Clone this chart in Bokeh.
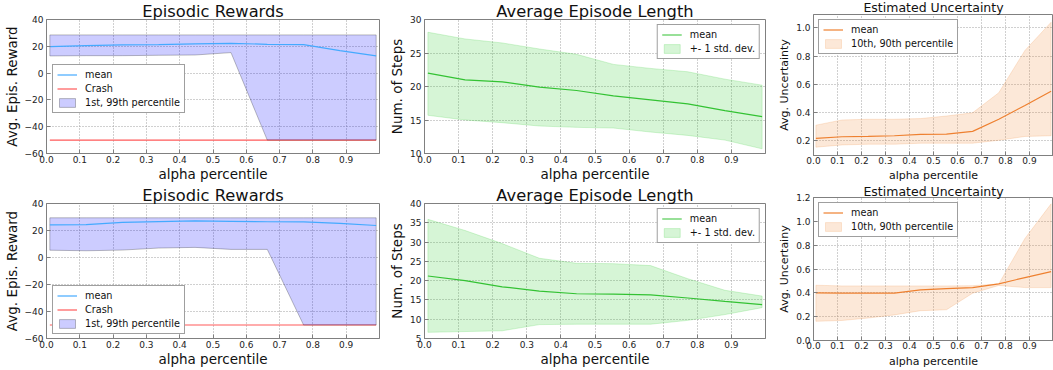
from bokeh.plotting import figure
from bokeh.layouts import column, row
from bokeh.models import Range1d, FixedTicker, Legend, LegendItem, PrintfTickFormatter
from bokeh.embed import file_html
from bokeh.resources import INLINE

# ---------------- data ----------------
alpha = [0.01, 0.119, 0.228, 0.337, 0.446, 0.554, 0.663, 0.772, 0.881, 0.99]
x_ticks = [0.0, 0.1, 0.2, 0.3, 0.4, 0.5, 0.6, 0.7, 0.8, 0.9]

# Row 1
r1_reward_mean = [19.8, 20.5, 21.0, 21.3, 21.8, 22.2, 21.5, 21.2, 16.8, 12.8]
r1_reward_p1 = [12.8, 13.0, 13.0, 13.3, 13.5, 15.3, -50.0, -50.0, -50.0, -50.0]
r1_reward_p99 = [28.5, 28.5, 28.5, 28.5, 28.5, 28.5, 28.5, 28.5, 28.5, 28.5]
r1_crash = [-50, -50, -50, -50, -50, -50, -50, -50, -50, -50]

r1_len_mean = [22.0, 21.0, 20.7, 19.9, 19.4, 18.6, 18.0, 17.4, 16.4, 15.5]
r1_len_upper = [28.1, 27.1, 26.5, 25.6, 24.8, 23.3, 22.7, 22.2, 21.1, 20.2]
r1_len_lower = [15.7, 15.0, 14.6, 14.1, 13.9, 13.8, 13.2, 12.7, 12.0, 10.7]

r1_unc_mean = [0.217, 0.228, 0.230, 0.235, 0.245, 0.247, 0.266, 0.352, 0.450, 0.550]
r1_unc_p90 = [0.310, 0.347, 0.352, 0.352, 0.357, 0.375, 0.398, 0.540, 0.840, 1.040]
r1_unc_p10 = [0.154, 0.170, 0.175, 0.175, 0.182, 0.182, 0.182, 0.203, 0.230, 0.235]

# Row 2
r2_reward_mean = [24.2, 24.3, 26.0, 26.6, 27.2, 26.8, 26.5, 26.4, 25.3, 23.7]
r2_reward_p1 = [5.4, 5.0, 5.5, 7.0, 7.5, 6.0, 6.0, -50.0, -50.0, -50.0]
r2_reward_p99 = [29.4, 29.4, 29.4, 29.4, 29.4, 29.4, 29.4, 29.4, 29.4, 29.4]
r2_crash = [-50, -50, -50, -50, -50, -50, -50, -50, -50, -50]

r2_len_mean = [21.2, 20.0, 18.4, 17.3, 16.6, 16.5, 16.3, 15.5, 14.6, 13.8]
r2_len_upper = [35.9, 33.0, 29.6, 25.8, 24.5, 24.4, 23.9, 20.5, 17.5, 16.0]
r2_len_lower = [6.6, 6.8, 7.0, 8.6, 8.7, 8.7, 8.7, 9.7, 11.2, 13.0]

r2_unc_mean = [0.400, 0.397, 0.397, 0.397, 0.425, 0.436, 0.444, 0.475, 0.528, 0.578]
r2_unc_p90 = [0.464, 0.458, 0.458, 0.458, 0.458, 0.458, 0.460, 0.475, 0.856, 1.147]
r2_unc_p10 = [0.161, 0.168, 0.189, 0.215, 0.250, 0.258, 0.397, 0.462, 0.444, 0.444]

FONT = "DejaVu Sans"
FRAME = "#808080"


def style_axis(ax, lsize):
    ax.axis_line_color = FRAME
    ax.major_tick_line_color = FRAME
    ax.major_tick_in = 4
    ax.major_tick_out = 0
    ax.minor_tick_line_color = None
    ax.major_label_text_font = FONT
    ax.major_label_text_font_size = "9px"
    ax.major_label_text_color = "#222222"
    ax.axis_label_text_font = FONT
    ax.axis_label_text_font_size = lsize
    ax.axis_label_text_font_style = "normal"
    ax.axis_label_text_color = "#111111"


def make_fig(width, height, bl, br, bt, bb, yr, yticks, title, tsize, t_std, lsize, xlabel, ylabel,
             x_std, x_ast, overrides=None, yfmt=None):
    p = figure(width=width, height=height, x_range=Range1d(0, 1.0), y_range=Range1d(*yr),
               output_backend="svg", toolbar_location=None,
               min_border_left=bl, min_border_right=br, min_border_top=bt, min_border_bottom=bb)
    p.title.text = title
    p.title.text_font = FONT
    p.title.text_font_size = tsize
    p.title.text_font_style = "normal"
    p.title.text_color = "#111111"
    p.title.align = "center"
    p.title.vertical_align = "middle"
    p.title.standoff = t_std
    p.title.offset = 0
    p.outline_line_color = FRAME
    p.outline_line_width = 1
    p.background_fill_color = "white"
    p.border_fill_color = "white"
    p.xaxis.ticker = FixedTicker(ticks=x_ticks)
    p.xaxis.formatter = PrintfTickFormatter(format="%.1f")
    p.yaxis.ticker = FixedTicker(ticks=yticks)
    if yfmt:
        p.yaxis.formatter = PrintfTickFormatter(format=yfmt)
    if overrides:
        p.yaxis.major_label_overrides = overrides
    style_axis(p.xaxis[0], lsize)
    style_axis(p.yaxis[0], lsize)
    p.xaxis.axis_label = xlabel
    p.yaxis.axis_label = ylabel
    p.xaxis.major_label_standoff = x_std
    p.xaxis.axis_label_standoff = x_ast
    p.yaxis.major_label_standoff = 3
    p.yaxis.axis_label_standoff = 2
    p.grid.grid_line_color = "#a0a0a0"
    p.grid.grid_line_dash = "1 2"
    p.grid.grid_line_width = 1
    return p


def band(p, lower, upper, color, edge, edge_alpha):
    xs = alpha + alpha[::-1]
    ys = upper + lower[::-1]
    return p.patch(xs, ys, fill_color=color, fill_alpha=0.2, line_color=edge, line_alpha=edge_alpha, line_width=1)


def legend(p, items, location, margin):
    lg = Legend(items=items, location=location, margin=margin)
    lg.label_text_font = FONT
    lg.label_text_font_size = "9.7px"
    lg.label_text_color = "#111111"
    lg.glyph_width = 20
    lg.glyph_height = 11
    lg.label_height = 11
    lg.label_standoff = 8
    lg.spacing = 3
    lg.padding = 4
    lg.border_line_color = "#404040"
    lg.border_line_width = 1
    lg.background_fill_color = "white"
    lg.background_fill_alpha = 1
    p.add_layout(lg)


neg = {-60: "\u221260", -40: "\u221240", -20: "\u221220"}


def reward_fig(width, height, bt, bb, mean, p1, p99, crash, leg_loc):
    p = make_fig(width, height, 45, width - 45 - 334, bt, bb, (-60, 40), [-60, -40, -20, 0, 20, 40],
                 "Episodic Rewards", "16.3px", -4, "13.5px", "alpha percentile", "Avg. Epis. Reward",
                 2, 0, overrides=neg)
    rc = p.line(alpha, crash, line_color="#ff5a5a", line_width=1.2)
    rb = band(p, p1, p99, "#0000ff", "#000000", 0.25)
    rm = p.line(alpha, mean, line_color="#44aaff", line_width=1.2)
    legend(p, [LegendItem(label="mean", renderers=[rm]),
               LegendItem(label="Crash", renderers=[rc]),
               LegendItem(label="1st, 99th percentile", renderers=[rb])], leg_loc, 0)
    return p


def length_fig(width, height, bt, bb, yr, yticks, mean, lower, upper):
    p = make_fig(width, height, 39, width - 39 - 341, bt, bb, yr, yticks,
                 "Average Episode Length", "16.3px", -4, "13.5px", "alpha percentile", "Num. of Steps",
                 2, 0)
    rb = band(p, lower, upper, "#32cd32", "#32cd32", 0.2)
    rm = p.line(alpha, mean, line_color="#33c233", line_width=1.2)
    legend(p, [LegendItem(label="mean", renderers=[rm]),
               LegendItem(label="+- 1 std. dev.", renderers=[rb])], "top_right", 5)
    return p


def unc_fig(width, height, bt, bb, t_std, x_ast, yr, yticks, mean, lower, upper, ylabel):
    p = make_fig(width, height, 34, width - 34 - 244, bt, bb, yr, yticks,
                 "Estimated Uncertainty", "12.5px", t_std, "11px", "alpha percentile", ylabel,
                 1, x_ast, yfmt="%.1f")
    rb = band(p, lower, upper, "#f28a3c", "#f28a3c", 0.2)
    rm = p.line(alpha, mean, line_color="#ee8030", line_width=1.2)
    legend(p, [LegendItem(label="mean", renderers=[rm]),
               LegendItem(label="10th, 90th percentile", renderers=[rb])], "top_left", 5)
    return p


f1 = reward_fig(385, 184, 19, 30, r1_reward_mean, r1_reward_p1, r1_reward_p99, r1_crash, (6, 40))
f2 = length_fig(390, 184, 19, 30, (10, 30), [10, 15, 20, 25, 30], r1_len_mean, r1_len_lower, r1_len_upper)
f3 = unc_fig(278, 184, 14, 27, -3, 2, (0.095, 1.095), [0.2, 0.4, 0.6, 0.8, 1.0],
             r1_unc_mean, r1_unc_p10, r1_unc_p90, "Avg. Uncertainty")

f4 = reward_fig(385, 186, 19, 32, r2_reward_mean, r2_reward_p1, r2_reward_p99, r2_crash, (6, 4))
f5 = length_fig(390, 186, 19, 32, (5, 40), [5, 10, 15, 20, 25, 30, 35, 40], r2_len_mean, r2_len_lower, r2_len_upper)
f6 = unc_fig(278, 186, 13, 29, -4, 3, (0.0, 1.2), [0.0, 0.2, 0.4, 0.6, 0.8, 1.0, 1.2],
             r2_unc_mean, r2_unc_p10, r2_unc_p90, "Avg. Uncertainy")

# wrap each figure on its own so that Bokeh does not align the plot frames across a row
p = column(
    row(column(f1), column(f2), column(f3), spacing=0),
    row(column(f4), column(f5), column(f6), spacing=0),
    spacing=0,
)

open("out.html", "w").write(file_html(p, INLINE))
